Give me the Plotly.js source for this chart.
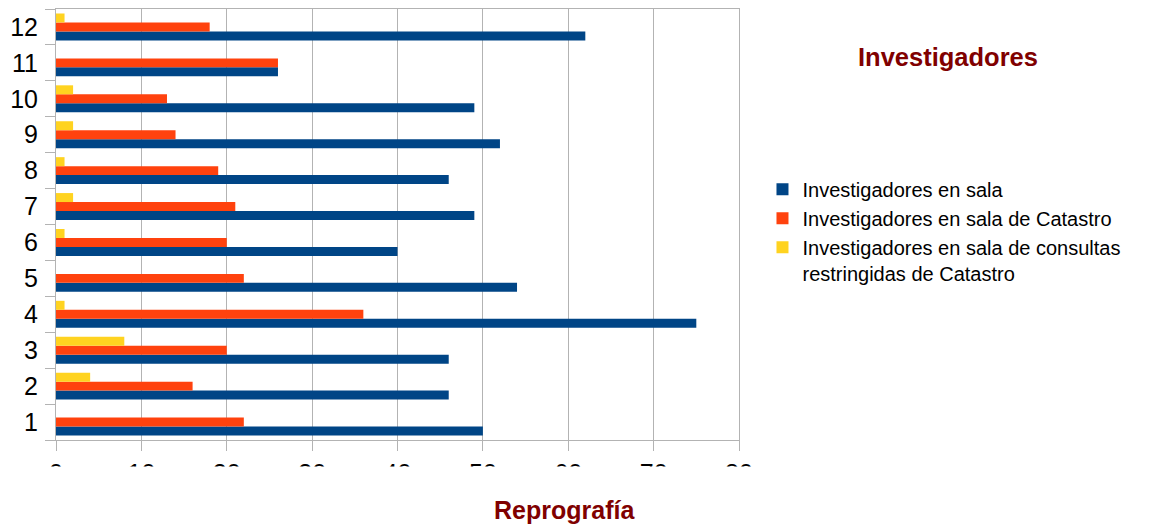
<!DOCTYPE html>
<html>
<head>
<meta charset="utf-8">
<script src="https://cdn.plot.ly/plotly-3.0.1.min.js"></script>
<style>html,body{margin:0;padding:0;background:#fff;}#chart{width:1163px;height:526px;}</style>
</head>
<body>
<div id="chart"></div>
<script>
var categories = ["1","2","3","4","5","6","7","8","9","10","11","12"];
var seriesNames = [
  "Investigadores en sala",
  "Investigadores en sala de Catastro",
  "Investigadores en sala de consultas<br>restringidas de Catastro"
];
var enSala = [50, 46, 46, 75, 54, 40, 49, 46, 52, 49, 26, 62];
var enSalaCatastro = [22, 16, 20, 36, 22, 20, 21, 19, 14, 13, 26, 18];
var enSalaRestringida = [0, 4, 8, 1, 0, 1, 2, 1, 2, 2, 0, 1];
var xTickVals = [0, 10, 20, 30, 40, 50, 60, 70, 80];
var chartTitle = "Investigadores";
var xTitle = "Reprografía";

var colors = ["#004586", "#ff420e", "#ffd320"];
var values = [enSala, enSalaCatastro, enSalaRestringida];

var traces = values.map(function (v, i) {
  return {
    type: "bar",
    orientation: "h",
    name: seriesNames[i],
    y: categories,
    x: v,
    marker: { color: colors[i], line: { width: 0 } },
    hoverinfo: "x+name"
  };
});

var W = 1163, H = 526;
var L = 56, R = 739.5, T = 9, B = 440.5;
var pw = R - L, ph = B - T;

var layout = {
  width: W,
  height: H,
  paper_bgcolor: "#ffffff",
  plot_bgcolor: "#ffffff",
  font: { family: "Liberation Sans, Arial, sans-serif", color: "#000000" },
  margin: { l: L, r: W - R, t: T, b: H - B, pad: 0 },
  barmode: "group",
  bargap: 0.25,
  bargroupgap: 0,
  showlegend: true,
  title: {
    text: "<b>" + chartTitle + "</b>",
    font: { size: 25.5, color: "#800000", family: "Liberation Sans, Arial, sans-serif" },
    xref: "container", yref: "container",
    x: 948 / W, y: 1 - 57 / H,
    xanchor: "center", yanchor: "middle"
  },
  xaxis: {
    range: [0, 80],
    tickvals: xTickVals,
    ticktext: xTickVals.map(String),
    showgrid: true,
    gridcolor: "#b3b3b3",
    gridwidth: 1,
    zeroline: false,
    showline: true,
    linecolor: "#b3b3b3",
    linewidth: 1,
    mirror: true,
    ticks: "outside",
    ticklen: 10,
    tickcolor: "#b3b3b3",
    tickfont: { size: 25, color: "#000000" },
    ticklabelstandoff: 1,
    fixedrange: true
  },
  yaxis: {
    type: "category",
    categoryorder: "array",
    categoryarray: categories,
    showgrid: false,
    zeroline: false,
    showline: true,
    linecolor: "#b3b3b3",
    linewidth: 1,
    mirror: true,
    ticks: "outside",
    tickson: "boundaries",
    ticklen: 10,
    tickcolor: "#b3b3b3",
    tickfont: { size: 25, color: "#000000" },
    ticklabelstandoff: 12,
    fixedrange: true
  },
  legend: {
    x: (763 - L) / pw,
    xanchor: "left",
    y: 1 - (170 - T) / ph,
    yanchor: "top",
    font: { size: 20, color: "#000000" },
    bgcolor: "rgba(0,0,0,0)",
    borderwidth: 0,
    valign: "top",
    traceorder: "normal"
  },
  shapes: [{
    type: "rect",
    xref: "paper", yref: "paper",
    x0: -0.1, x1: 1.06,
    y0: -(467 - B) / ph, y1: -(490 - B) / ph,
    fillcolor: "#ffffff",
    line: { width: 0 },
    layer: "above"
  }],
  annotations: [{
    text: "<b>" + xTitle + "</b>",
    xref: "paper", yref: "paper",
    x: (565 - L) / pw,
    y: -(511 - B) / ph,
    xanchor: "center", yanchor: "middle",
    showarrow: false,
    font: { size: 25, color: "#800000" }
  }]
};

Plotly.newPlot("chart", traces, layout, { displayModeBar: false, staticPlot: true });
</script>
</body>
</html>
